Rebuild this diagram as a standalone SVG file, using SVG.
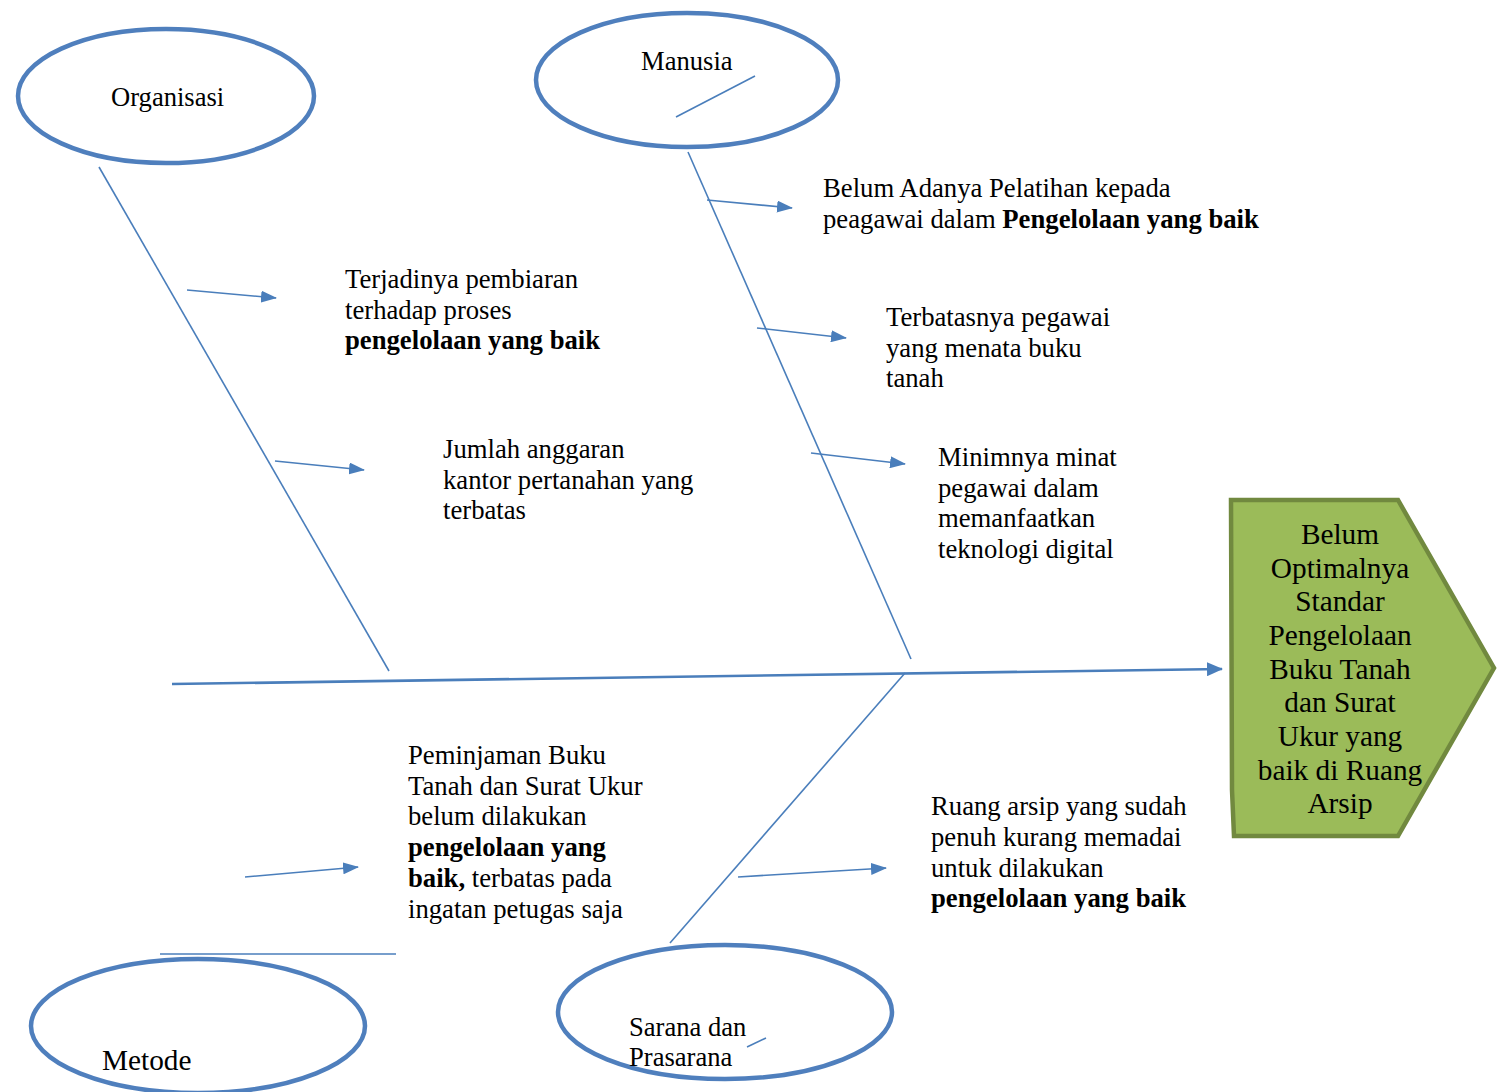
<svg xmlns="http://www.w3.org/2000/svg" width="1502" height="1092" viewBox="0 0 1502 1092">
<style>
.bg{fill:#ffffff}
.oval{fill:#ffffff;stroke:#4f7fbd;stroke-width:4.5}
.ln{fill:none;stroke:#4a7ebb;stroke-width:1.6}
.main{fill:none;stroke:#4a7ebb;stroke-width:2.6}
.t{font-family:"Liberation Serif","Times New Roman",serif;font-size:26.7px;fill:#000}
.lbl{font-family:"Liberation Serif","Times New Roman",serif;font-size:26.6px;fill:#000}
.big{font-family:"Liberation Serif","Times New Roman",serif;font-size:29.3px;fill:#000}
.b{font-weight:bold}
</style>
<defs>
<marker id="ahm" markerWidth="16" markerHeight="14" refX="15" refY="7" orient="auto" markerUnits="userSpaceOnUse" viewBox="0 0 16 14">
<path d="M0,0 L16,7 L0,14 Z" fill="#4a7ebb"/>
</marker>
<marker id="ahs" markerWidth="16" markerHeight="12" refX="15" refY="6" orient="auto" markerUnits="userSpaceOnUse" viewBox="0 0 16 12">
<path d="M0,0 L16,6 L0,12 Z" fill="#4a7ebb"/>
</marker>
</defs>
<rect class="bg" x="0" y="0" width="1502" height="1092"/>

<g id="connectors">
<line class="ln" x1="99" y1="167" x2="389" y2="671"/>
<line class="ln" x1="688" y1="152" x2="911" y2="659"/>
<line class="ln" x1="905" y1="673" x2="670" y2="943"/>
<line class="ln" x1="160" y1="954" x2="396" y2="954"/>
<line class="main" x1="172" y1="684" x2="1222" y2="669" marker-end="url(#ahm)"/>
<line class="ln" x1="187" y1="290" x2="276" y2="298" marker-end="url(#ahs)"/>
<line class="ln" x1="275" y1="461" x2="364" y2="470" marker-end="url(#ahs)"/>
<line class="ln" x1="707" y1="200" x2="792" y2="208" marker-end="url(#ahs)"/>
<line class="ln" x1="757" y1="328" x2="846" y2="338" marker-end="url(#ahs)"/>
<line class="ln" x1="811" y1="453" x2="905" y2="464" marker-end="url(#ahs)"/>
<line class="ln" x1="245" y1="877" x2="358" y2="867" marker-end="url(#ahs)"/>
<line class="ln" x1="738" y1="877" x2="886" y2="868" marker-end="url(#ahs)"/>
</g>

<g id="organisasi">
<ellipse class="oval" cx="166" cy="96" rx="148" ry="67"/>
<text class="lbl" x="111" y="106">Organisasi</text>
</g>
<g id="manusia">
<ellipse class="oval" cx="687" cy="80" rx="151" ry="67"/>
<text class="lbl" x="641" y="70">Manusia</text>
<line class="ln" x1="676" y1="117" x2="755" y2="76"/>
</g>
<g id="metode">
<ellipse class="oval" cx="198" cy="1026" rx="167" ry="67"/>
<text class="big" x="102" y="1070">Metode</text>
</g>
<g id="sarana">
<ellipse class="oval" cx="725" cy="1012" rx="167" ry="67"/>
<text class="lbl" x="629" y="1036">Sarana dan</text>
<text class="lbl" x="629" y="1066">Prasarana</text>
<line class="ln" x1="747" y1="1047" x2="766" y2="1038"/>
</g>

<g id="cause1">
<text class="t" x="345" y="288">Terjadinya pembiaran</text>
<text class="t" x="345" y="319">terhadap proses</text>
<text class="t b" x="345" y="349">pengelolaan yang baik</text>
</g>
<g id="cause2">
<text class="t" x="443" y="458">Jumlah anggaran</text>
<text class="t" x="443" y="489">kantor pertanahan yang</text>
<text class="t" x="443" y="519">terbatas</text>
</g>
<g id="cause3">
<text class="t" x="823" y="197">Belum Adanya Pelatihan kepada</text>
<text class="t" x="823" y="228">peagawai dalam <tspan class="b">Pengelolaan yang baik</tspan></text>
</g>
<g id="cause4">
<text class="t" x="886" y="326">Terbatasnya pegawai</text>
<text class="t" x="886" y="357">yang menata buku</text>
<text class="t" x="886" y="387">tanah</text>
</g>
<g id="cause5">
<text class="t" x="938" y="466">Minimnya minat</text>
<text class="t" x="938" y="497">pegawai dalam</text>
<text class="t" x="938" y="527">memanfaatkan</text>
<text class="t" x="938" y="558">teknologi digital</text>
</g>
<g id="cause6">
<text class="t" x="408" y="764">Peminjaman Buku</text>
<text class="t" x="408" y="795">Tanah dan Surat Ukur</text>
<text class="t" x="408" y="825">belum dilakukan</text>
<text class="t b" x="408" y="856">pengelolaan yang</text>
<text class="t" x="408" y="887"><tspan class="b">baik,</tspan> terbatas pada</text>
<text class="t" x="408" y="918">ingatan petugas saja</text>
</g>
<g id="cause7">
<text class="t" x="931" y="815">Ruang arsip yang sudah</text>
<text class="t" x="931" y="846">penuh kurang memadai</text>
<text class="t" x="931" y="877">untuk dilakukan</text>
<text class="t b" x="931" y="907">pengelolaan yang baik</text>
</g>

<g id="effect">
<polygon points="1231,500 1398,500 1494,668 1398,836 1234,836 1232,790" fill="#9bbb59" stroke="#71893f" stroke-width="4.5" stroke-linejoin="miter"/>
<g class="big" text-anchor="middle">
<text x="1340" y="544">Belum</text>
<text x="1340" y="578">Optimalnya</text>
<text x="1340" y="611">Standar</text>
<text x="1340" y="645">Pengelolaan</text>
<text x="1340" y="679">Buku Tanah</text>
<text x="1340" y="712">dan Surat</text>
<text x="1340" y="746">Ukur yang</text>
<text x="1340" y="780">baik di Ruang</text>
<text x="1340" y="813">Arsip</text>
</g>
</g>
</svg>
